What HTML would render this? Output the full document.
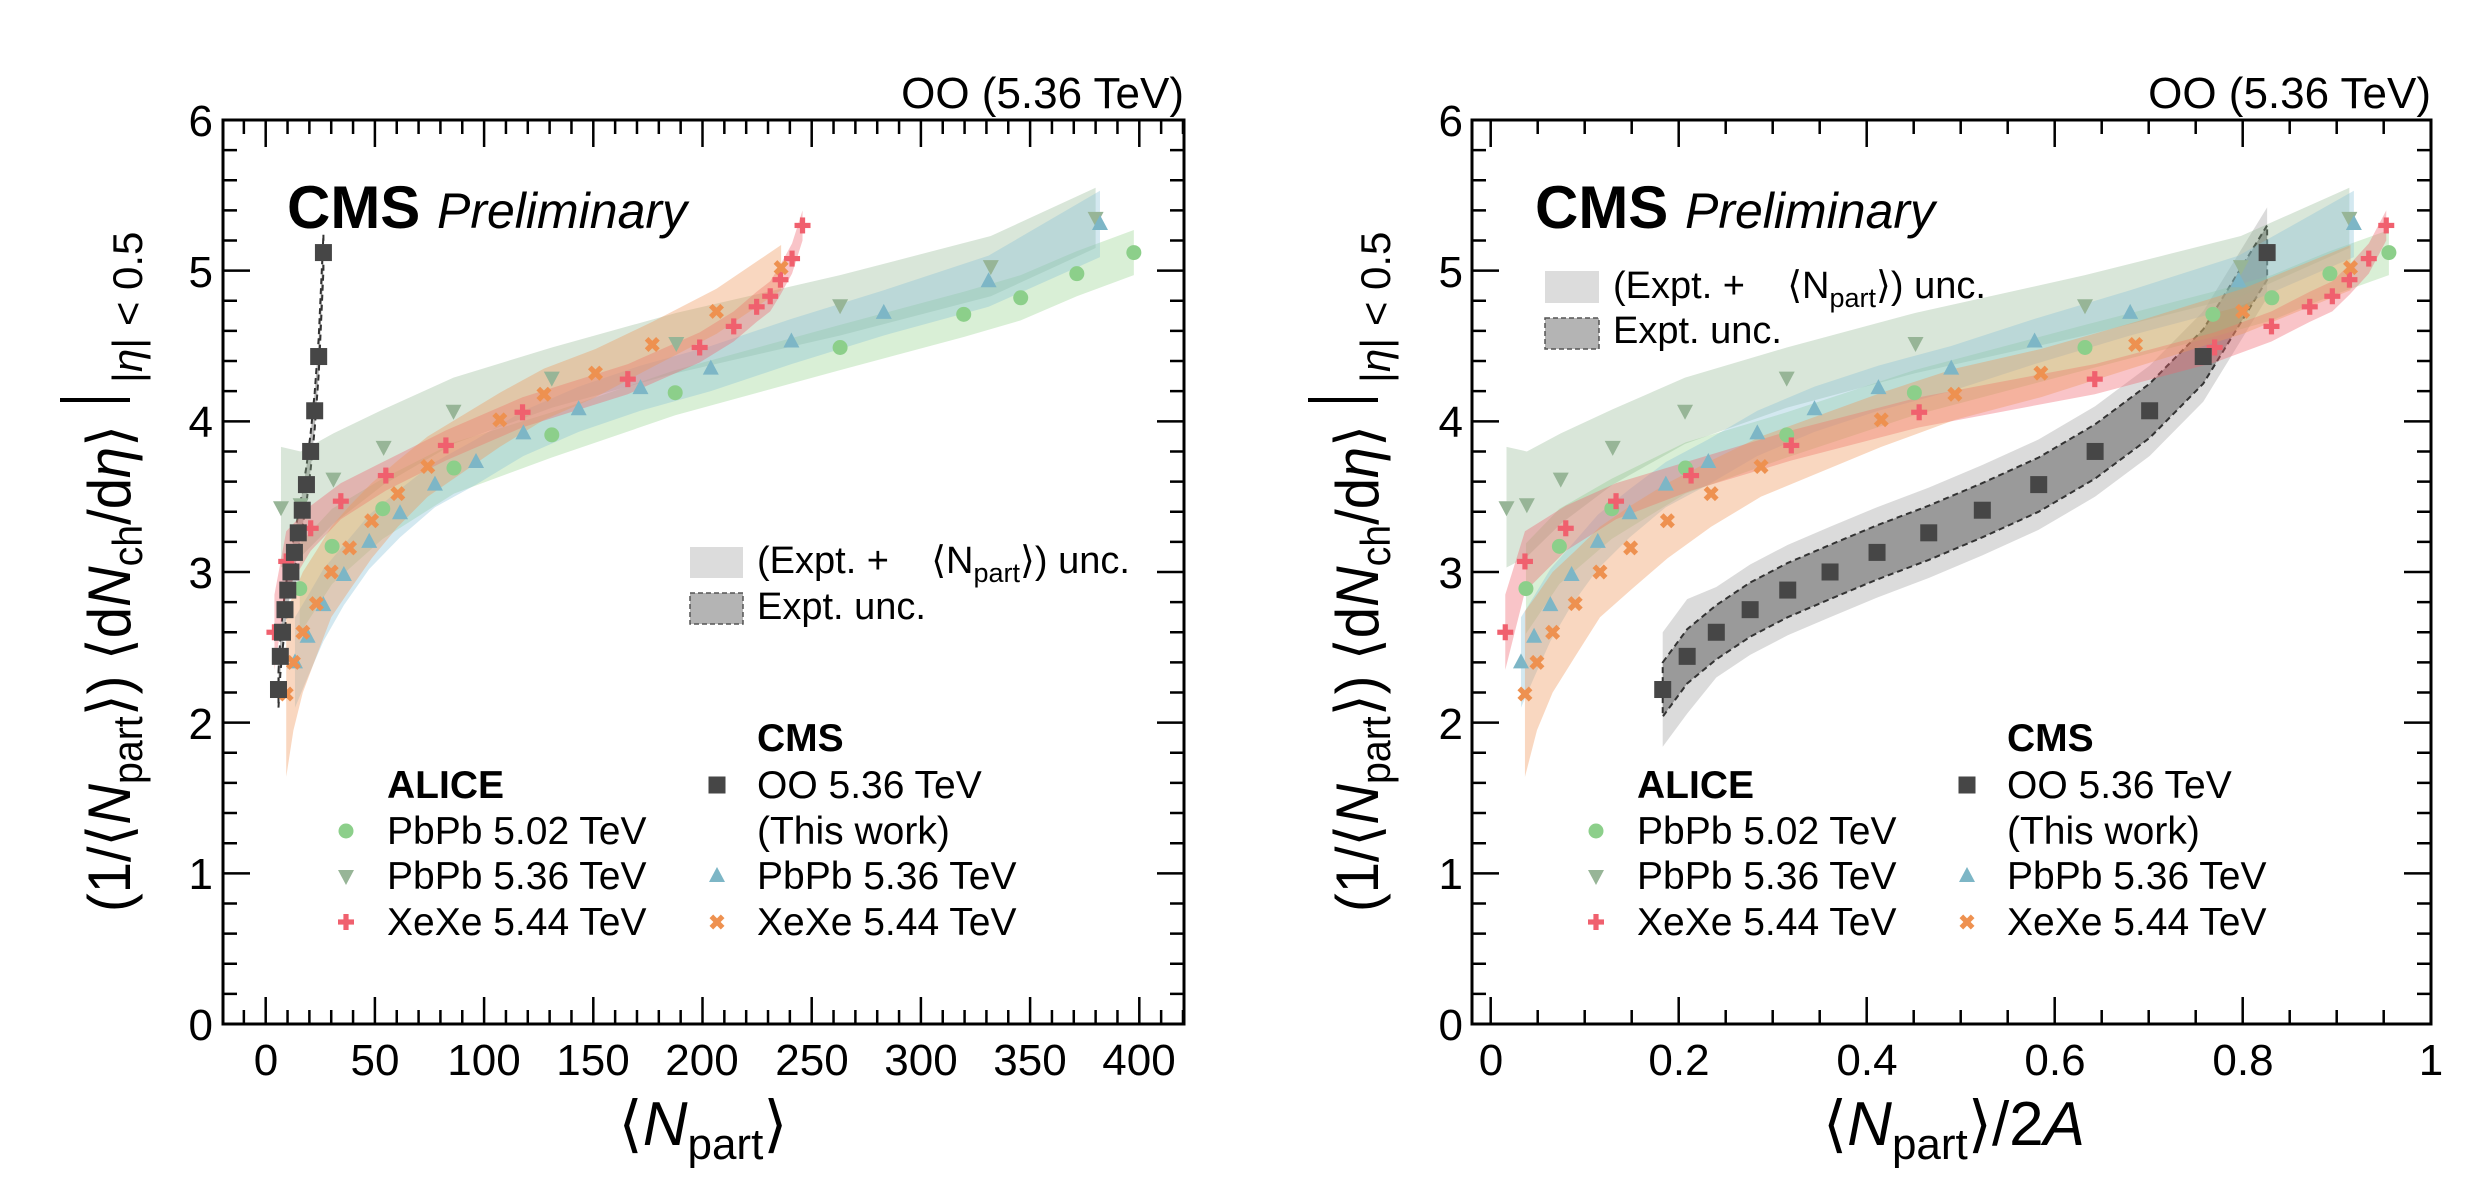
<!DOCTYPE html>
<html><head><meta charset="utf-8"><style>
html,body{margin:0;padding:0;background:#fff}
svg{display:block;font-family:"Liberation Sans",sans-serif}
</style></head><body>
<svg id="s" width="2485" height="1198" viewBox="0 0 2485 1198" xmlns="http://www.w3.org/2000/svg">
<defs>
<clipPath id="cL"><rect x="223" y="120" width="961" height="904"/></clipPath>
<clipPath id="cR"><rect x="1472" y="120" width="959" height="904"/></clipPath>
</defs>
<g id="bandsL" clip-path="url(#cL)"></g>
<g id="bandsR" clip-path="url(#cR)"></g>
<g id="mk"></g>
<g id="ax" stroke="#000" fill="none"></g>

<text x="1184" y="108" font-size="44" text-anchor="end">OO (5.36 TeV)</text>
<text x="2431" y="108" font-size="44" text-anchor="end">OO (5.36 TeV)</text>
<text x="287" y="228" font-size="60" font-weight="bold">CMS <tspan font-weight="normal" font-style="italic" font-size="50">Preliminary</tspan></text>
<text x="1535" y="228" font-size="60" font-weight="bold">CMS <tspan font-weight="normal" font-style="italic" font-size="50">Preliminary</tspan></text>

<g font-size="44" text-anchor="end">
<text x="213" y="1040">0</text><text x="213" y="889">1</text><text x="213" y="739">2</text><text x="213" y="588">3</text><text x="213" y="437">4</text><text x="213" y="287">5</text><text x="213" y="136">6</text>
<text x="1463" y="1040">0</text><text x="1463" y="889">1</text><text x="1463" y="739">2</text><text x="1463" y="588">3</text><text x="1463" y="437">4</text><text x="1463" y="287">5</text><text x="1463" y="136">6</text>
</g>
<g font-size="44" text-anchor="middle">
<text x="266" y="1075">0</text><text x="375" y="1075">50</text><text x="484" y="1075">100</text><text x="593" y="1075">150</text><text x="702" y="1075">200</text><text x="812" y="1075">250</text><text x="921" y="1075">300</text><text x="1030" y="1075">350</text><text x="1139" y="1075">400</text>
<text x="1491" y="1075">0</text><text x="1679" y="1075">0.2</text><text x="1867" y="1075">0.4</text><text x="2055" y="1075">0.6</text><text x="2243" y="1075">0.8</text><text x="2431" y="1075">1</text>
</g>
<text x="703" y="1145" font-size="62" text-anchor="middle">⟨<tspan font-style="italic">N</tspan><tspan font-size="44" dy="14">part</tspan><tspan dy="-14">⟩</tspan></text>
<text x="1954" y="1145" font-size="62" text-anchor="middle">⟨<tspan font-style="italic">N</tspan><tspan font-size="44" dy="14">part</tspan><tspan dy="-14">⟩/2</tspan><tspan font-style="italic">A</tspan></text>

<g id="yt">
<text transform="rotate(-90)" x="-912" y="130" font-size="60" textLength="487" lengthAdjust="spacingAndGlyphs">(1/⟨<tspan font-style="italic">N</tspan><tspan font-size="42" dy="12">part</tspan><tspan dy="-12">⟩) ⟨d</tspan><tspan font-style="italic">N</tspan><tspan font-size="42" dy="12">ch</tspan><tspan dy="-12">/d</tspan><tspan font-style="italic">η</tspan>⟩</text>
<line x1="60" y1="400" x2="130" y2="400" stroke="#000" stroke-width="4"/>
<text transform="rotate(-90)" x="-383" y="142" font-size="42">|<tspan font-style="italic">η</tspan>| &lt; 0.5</text>
</g>
<g transform="translate(1248,0)">
<text transform="rotate(-90)" x="-912" y="130" font-size="60" textLength="487" lengthAdjust="spacingAndGlyphs">(1/⟨<tspan font-style="italic">N</tspan><tspan font-size="42" dy="12">part</tspan><tspan dy="-12">⟩) ⟨d</tspan><tspan font-style="italic">N</tspan><tspan font-size="42" dy="12">ch</tspan><tspan dy="-12">/d</tspan><tspan font-style="italic">η</tspan>⟩</text>
<line x1="60" y1="400" x2="130" y2="400" stroke="#000" stroke-width="4"/>
<text transform="rotate(-90)" x="-383" y="142" font-size="42">|<tspan font-style="italic">η</tspan>| &lt; 0.5</text>
</g>

<rect x="690" y="547" width="53" height="31" fill="#dcdcdc"/>
<rect x="690" y="593" width="53" height="31" fill="#b4b4b4" stroke="#555" stroke-dasharray="5,3" stroke-width="1.5"/>
<text x="757" y="573" font-size="38">(Expt. +&#160;&#160;&#160;&#160;⟨N<tspan font-size="27" dy="9">part</tspan><tspan dy="-9">⟩) unc.</tspan></text>
<text x="757" y="619" font-size="38">Expt. unc.</text>
<rect x="1545" y="271" width="54" height="32" fill="#dcdcdc"/>
<rect x="1545" y="318" width="54" height="31" fill="#b4b4b4" stroke="#555" stroke-dasharray="5,3" stroke-width="1.5"/>
<text x="1613" y="298" font-size="38">(Expt. +&#160;&#160;&#160;&#160;⟨N<tspan font-size="27" dy="9">part</tspan><tspan dy="-9">⟩) unc.</tspan></text>
<text x="1613" y="343" font-size="38">Expt. unc.</text>

<g font-size="39">
<text x="387" y="798" font-weight="bold">ALICE</text>
<text x="387" y="844">PbPb 5.02 TeV</text><text x="387" y="889">PbPb 5.36 TeV</text><text x="387" y="935">XeXe 5.44 TeV</text>
<text x="757" y="751" font-weight="bold">CMS</text>
<text x="757" y="798">OO 5.36 TeV</text><text x="757" y="844">(This work)</text><text x="757" y="889">PbPb 5.36 TeV</text><text x="757" y="935">XeXe 5.44 TeV</text>
<text x="1637" y="798" font-weight="bold">ALICE</text>
<text x="1637" y="844">PbPb 5.02 TeV</text><text x="1637" y="889">PbPb 5.36 TeV</text><text x="1637" y="935">XeXe 5.44 TeV</text>
<text x="2007" y="751" font-weight="bold">CMS</text>
<text x="2007" y="798">OO 5.36 TeV</text><text x="2007" y="844">(This work)</text><text x="2007" y="889">PbPb 5.36 TeV</text><text x="2007" y="935">XeXe 5.44 TeV</text>
</g>
</svg>
<script>
const NS="http://www.w3.org/2000/svg";
function el(p,t,a){const e=document.createElementNS(NS,t);for(const k in a)e.setAttribute(k,a[k]);p.appendChild(e);return e;}
const Y=v=>1024-v*150.67;
const XL=n=>265.7+n*2.184, XR=x=>1490.7+x*940;
const C={g1:"#8ccf8a",g2:"#97b597",b:"#7db6c6",r:"#f0606e",o:"#ee9150",k:"#464646"};
const F={g1:"rgba(140,205,130,0.33)",g2:"rgba(140,180,140,0.33)",b:"rgba(140,195,215,0.38)",r:"rgba(240,100,110,0.38)",o:"rgba(240,150,90,0.38)"};
const S=[
{k:"g1",m:"c",A:416,N:[15.6,30.4,53.6,86.2,131,187.5,263,319.6,345.7,371.4,397.5],y:[2.89,3.17,3.42,3.69,3.91,4.19,4.49,4.71,4.82,4.98,5.12],h:[0.3,0.25,0.2,0.17,0.15,0.15,0.15,0.15,0.15,0.15,0.15]},
{k:"g2",m:"d",A:416,N:[7,16,31,54,86,131,188,263,332,380],y:[3.43,3.45,3.62,3.83,4.07,4.29,4.52,4.77,5.03,5.35],h:[0.4,0.35,0.3,0.25,0.22,0.2,0.2,0.2,0.2,0.2]},
{k:"b",m:"u",A:416,N:[13.4,19.2,26.4,35.8,47.4,61.5,77.5,96.3,118,143.3,171.6,203.8,240.7,283,331,382],y:[2.40,2.57,2.78,2.98,3.20,3.39,3.58,3.73,3.92,4.08,4.22,4.35,4.53,4.72,4.93,5.31],h:[0.3,0.27,0.24,0.2,0.18,0.16,0.15,0.15,0.15,0.15,0.15,0.15,0.15,0.15,0.17,0.22]},
{k:"r",m:"p",A:258,N:[4,9.4,20.6,34.4,55,82.5,117.6,165.8,198.7,214.3,224.8,231,235.7,241,245.8],y:[2.60,3.07,3.29,3.47,3.64,3.84,4.06,4.28,4.49,4.63,4.76,4.83,4.94,5.08,5.30],h:[0.25,0.2,0.15,0.12,0.1,0.1,0.1,0.1,0.1,0.1,0.1,0.1,0.1,0.1,0.1]},
{k:"o",m:"x",A:258,N:[9.4,12.7,17,23.2,30,38.4,48.5,60.5,74.2,107.2,127.4,151,177,206.4,236],y:[2.19,2.40,2.60,2.79,3.00,3.16,3.34,3.52,3.70,4.01,4.18,4.32,4.51,4.73,5.02],h:[0.55,0.45,0.4,0.35,0.3,0.28,0.25,0.22,0.2,0.18,0.17,0.16,0.15,0.15,0.15]}
];
const OOx=[0.183,0.209,0.24,0.276,0.316,0.361,0.411,0.466,0.523,0.583,0.643,0.701,0.758,0.826];
const OOy=[2.22,2.44,2.60,2.75,2.88,3.00,3.13,3.26,3.41,3.58,3.80,4.07,4.43,5.12];
function band(g,xs,ys,hs,attrs){let up=[],dn=[];for(let i=0;i<xs.length;i++){up.push(xs[i]+","+Y(ys[i]+hs[i]));dn.unshift(xs[i]+","+Y(ys[i]-hs[i]));}
 const a=Object.assign({points:up.concat(dn).join(" ")},attrs);return el(g,"polygon",a);}
const bL=document.getElementById("bandsL"),bR=document.getElementById("bandsR"),mk=document.getElementById("mk");
band(bR,OOx.map(XR),OOy,OOy.map((v,i)=>i<2?0.38:0.3),{fill:"rgba(190,190,190,0.55)"});
band(bR,OOx.map(XR),OOy,OOy.map(()=>0.18),{fill:"rgba(110,110,110,0.6)",stroke:"#333","stroke-dasharray":"6,4","stroke-width":2});
band(bL,OOx.map(v=>XL(v*32)),OOy,OOy.map(()=>0.12),{fill:"rgba(120,120,120,0.5)",stroke:"#333","stroke-dasharray":"6,4","stroke-width":2});
for(const s of S){band(bL,s.N.map(XL),s.y,s.h,{fill:F[s.k]});band(bR,s.N.map(n=>XR(n/s.A)),s.y,s.h,{fill:F[s.k]});}
function marker(m,x,y,c){
 if(m=="c")el(mk,"circle",{cx:x,cy:y,r:7.5,fill:c});
 else if(m=="s")el(mk,"rect",{x:x-8.5,y:y-8.5,width:17,height:17,fill:c});
 else if(m=="u")el(mk,"polygon",{points:`${x},${y-9} ${x-8},${y+6} ${x+8},${y+6}`,fill:c});
 else if(m=="d")el(mk,"polygon",{points:`${x},${y+9} ${x-8},${y-6} ${x+8},${y-6}`,fill:c});
 else {const g=el(mk,"g",{transform:`translate(${x},${y}) rotate(${m=="x"?45:0})`});
  el(g,"rect",{x:-8,y:-2.6,width:16,height:5.2,fill:c});el(g,"rect",{x:-2.6,y:-8,width:5.2,height:16,fill:c});}
}
for(const s of S){for(let i=0;i<s.N.length;i++){marker(s.m,XL(s.N[i]),Y(s.y[i]),C[s.k]);marker(s.m,XR(s.N[i]/s.A),Y(s.y[i]),C[s.k]);}}
for(let i=0;i<OOx.length;i++){marker("s",XL(OOx[i]*32),Y(OOy[i]),C.k);marker("s",XR(OOx[i]),Y(OOy[i]),C.k);}
[[346,831,"c","g1"],[346,876,"d","g2"],[346,922,"p","r"],[717,785,"s","k"],[717,876,"u","b"],[717,922,"x","o"]].forEach(a=>{marker(a[2],a[0],a[1],C[a[3]]);marker(a[2],a[0]+1250,a[1],C[a[3]]);});
const ax=document.getElementById("ax");
function frame(x0,x1,xt){el(ax,"rect",{x:x0,y:120,width:x1-x0,height:904,"stroke-width":3});
 let d="";for(let v=0;v<=6.001;v+=0.2){const y=Y(v),L=(Math.abs(v-Math.round(v))<0.01)?27:14;d+=`M${x0},${y}h${L}M${x1},${y}h${-L}`;}
 for(const t of xt){d+=`M${t[0]},1024v${-t[1]}M${t[0]},120v${t[1]}`;}
 el(ax,"path",{d:d,"stroke-width":2.5});}
let tl=[];for(let n=-10;n<=420;n+=10)tl.push([XL(n),n%50==0?27:14]);
frame(223,1184,tl);
let tr=[];for(let i=0;i<=20;i++){tr.push([XR(i*0.05),i%4==0?27:14]);}
frame(1472,2431,tr);
</script>
</body></html>
